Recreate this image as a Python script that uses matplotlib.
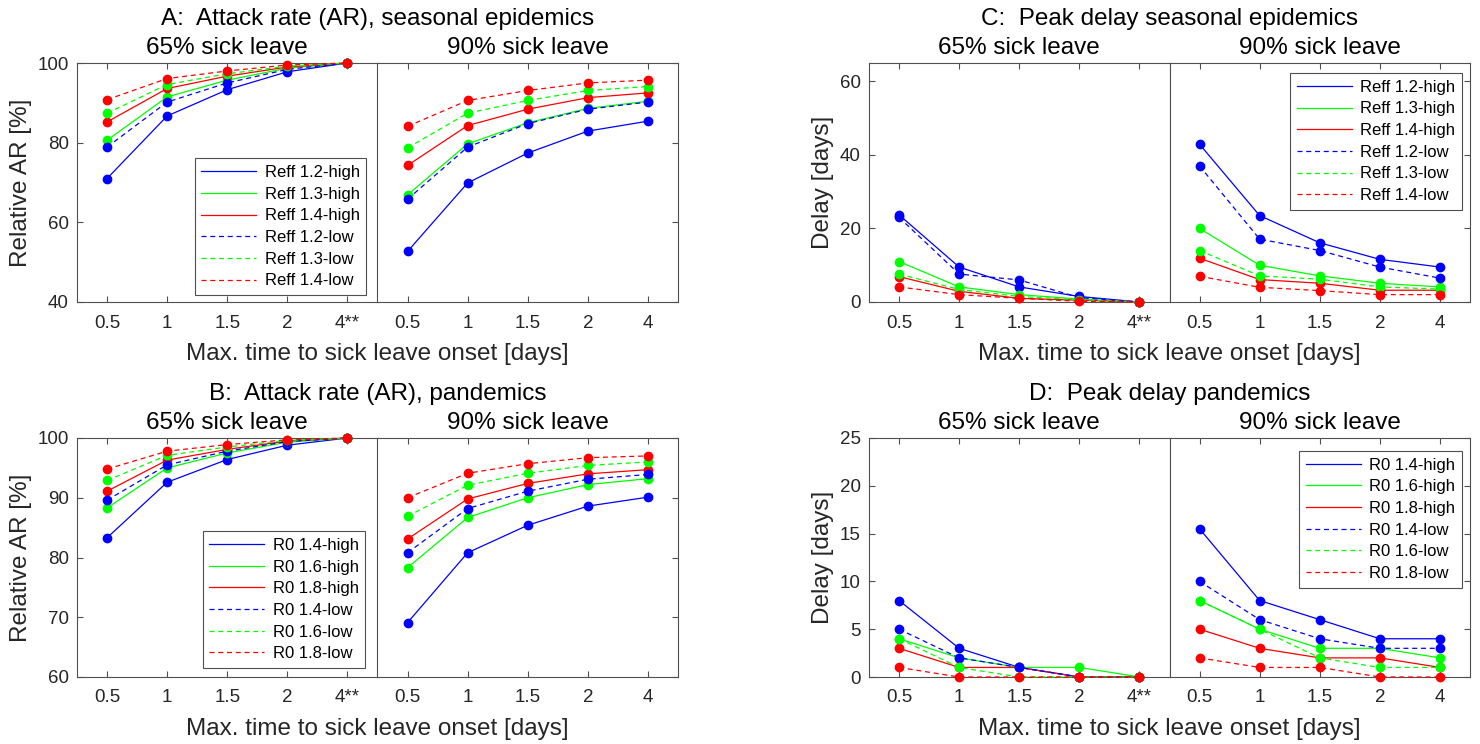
import matplotlib
matplotlib.use("Agg")
import matplotlib.pyplot as plt

plt.rcParams['font.family'] = ['Liberation Sans', 'DejaVu Sans']

# x categories (max. time to sick leave onset, days)
xcats = [0.5, 1, 1.5, 2, 4]
xlab_65 = ['0.5', '1', '1.5', '2', '4**']
xlab_90 = ['0.5', '1', '1.5', '2', '4']

# series order: high x3 then low x3
names_seas = ['Reff 1.2-high', 'Reff 1.3-high', 'Reff 1.4-high',
              'Reff 1.2-low', 'Reff 1.3-low', 'Reff 1.4-low']
names_pand = ['R0 1.4-high', 'R0 1.6-high', 'R0 1.8-high',
              'R0 1.4-low', 'R0 1.6-low', 'R0 1.8-low']

# A: relative attack rate, seasonal epidemics [%]
ar_seas_65 = [[71.0, 86.7, 93.3, 97.8, 100],
              [80.6, 91.5, 95.7, 98.7, 100],
              [85.2, 93.6, 96.7, 99.0, 100],
              [78.9, 90.2, 95.0, 98.4, 100],
              [87.4, 94.6, 97.3, 99.2, 100],
              [90.8, 96.1, 98.0, 99.5, 100]]
ar_seas_90 = [[52.7, 69.9, 77.4, 82.9, 85.4],
              [66.9, 79.7, 85.0, 88.6, 90.4],
              [74.3, 84.3, 88.4, 91.3, 92.5],
              [65.8, 78.9, 84.8, 88.4, 90.2],
              [78.7, 87.4, 90.6, 93.1, 94.1],
              [84.1, 90.6, 93.1, 95.0, 95.7]]

# B: relative attack rate, pandemics [%]
ar_pand_65 = [[83.3, 92.6, 96.4, 98.8, 100],
              [88.3, 95.0, 97.5, 99.3, 100],
              [91.1, 96.3, 98.1, 99.5, 100],
              [89.6, 95.5, 97.8, 99.4, 100],
              [92.9, 97.1, 98.5, 99.6, 100],
              [94.8, 97.8, 98.9, 99.7, 100]]
ar_pand_90 = [[69.1, 80.8, 85.4, 88.6, 90.1],
              [78.3, 86.7, 90.0, 92.2, 93.2],
              [83.1, 89.8, 92.4, 94.0, 94.7],
              [80.8, 88.2, 91.1, 93.1, 93.9],
              [86.9, 92.1, 94.1, 95.4, 96.0],
              [90.0, 94.1, 95.7, 96.7, 97.0]]

# C: peak delay, seasonal epidemics [days]
dl_seas_65 = [[23.7, 9.5, 4.1, 1.5, 0],
              [11.0, 4.1, 2.0, 0.8, 0],
              [6.9, 2.9, 1.0, 0.5, 0],
              [23.0, 7.6, 6.0, 1.2, 0],
              [7.6, 3.4, 1.5, 0.6, 0],
              [4.1, 2.0, 1.0, 0.2, 0]]
dl_seas_90 = [[42.9, 23.5, 16.1, 11.6, 9.5],
              [20.0, 10.0, 7.1, 5.1, 4.1],
              [11.9, 6.1, 5.1, 3.2, 3.2],
              [37.0, 17.1, 14.0, 9.5, 6.5],
              [14.0, 7.1, 6.2, 4.1, 3.5],
              [7.0, 4.0, 3.1, 2.0, 2.0]]

# D: peak delay, pandemics [days]
dl_pand_65 = [[8, 3, 1, 0, 0],
              [4, 2, 1, 1, 0],
              [3, 1, 1, 0, 0],
              [5, 2, 1, 0, 0],
              [4, 1, 0, 0, 0],
              [1, 0, 0, 0, 0]]
dl_pand_90 = [[15.5, 8, 6, 4, 4],
              [8, 5, 3, 3, 2],
              [5, 3, 2, 2, 1],
              [10, 6, 4, 3, 3],
              [8, 5, 2, 1, 1],
              [2, 1, 1, 0, 0]]

colors = ['b', 'lime', 'r', 'b', 'lime', 'r']
styles = ['-', '-', '-', (0, (4, 3)), (0, (4, 3)), (0, (4, 3))]

W, H = 1480, 744
fig = plt.figure(figsize=(W/100, H/100), dpi=100)
axcol = '#505050'


def box(x0, x1, y0, y1):
    # pixel box -> figure fraction
    return [x0/W, 1-y1/H, (x1-x0)/W, (y1-y0)/H]


def half(rect, data, names, xlabs, ylim, yticks, side):
    ax = fig.add_axes(rect)
    pos = range(1, len(xcats)+1)
    lines = []
    for i in range(len(data)):
        l, = ax.plot(pos, data[i], color=colors[i], ls=styles[i], lw=0.9,
                     marker='o', ms=6, label=names[i], clip_on=False, zorder=3)
        lines.append(l)
    ax.set_xlim(0.5, len(xcats)+0.5)
    ax.set_ylim(*ylim)
    ax.set_xticks(list(pos))
    ax.set_xticklabels(xlabs)
    ax.set_yticks(yticks)
    for s in ax.spines.values():
        s.set_color(axcol)
        s.set_linewidth(0.8)
    ax.tick_params(direction='in', length=4, width=0.8, color=axcol,
                   labelsize=13.5, labelcolor='#262626', top=True)
    ax.tick_params(axis='x', pad=9)
    ax.tick_params(axis='y', pad=6)
    if side == 'left':
        ax.tick_params(axis='y', left=True, right=False)
    else:
        ax.tick_params(axis='y', left=False, right=True, labelleft=False)
    return ax, lines


def panel(x0, x1, y0, y1, d65, d90, names, ylim, yticks, title, ylabel, legpos):
    xm = (x0+x1)/2
    ax1, lines = half(box(x0, xm, y0, y1), d65, names, xlab_65, ylim, yticks, 'left')
    ax2, _ = half(box(xm, x1, y0, y1), d90, names, xlab_90, ylim, yticks, 'right')
    ax1.set_ylabel(ylabel, fontsize=17.5, color='#262626', labelpad=4)
    fig.text(xm/W, 1-(y0-44)/H, title, fontsize=17.5, ha='center', va='center')
    fig.text((x0+xm)/2/W, 1-(y0-15)/H, '65% sick leave', fontsize=17.5, ha='center', va='center')
    fig.text((xm+x1)/2/W, 1-(y0-15)/H, '90% sick leave', fontsize=17.5, ha='center', va='center')
    fig.text(xm/W, 1-(y1+52)/H, 'Max. time to sick leave onset [days]',
             fontsize=17.5, ha='center', va='center', color='#262626')
    which, loc, anchor = legpos
    axl = ax1 if which == 1 else ax2
    leg = axl.legend(lines, names, loc=loc, bbox_to_anchor=anchor, fontsize=12,
                     handlelength=3.3, labelspacing=0.4, borderpad=0.4,
                     handletextpad=0.5, borderaxespad=0, fancybox=False, framealpha=1)
    leg.get_frame().set_edgecolor(axcol)
    leg.get_frame().set_linewidth(0.8)
    for h in leg.get_lines():
        h.set_marker('')


panel(77, 678, 63, 302, ar_seas_65, ar_seas_90, names_seas, (40, 100), [40, 60, 80, 100],
      'A:  Attack rate (AR), seasonal epidemics', 'Relative AR [%]',
      (1, 'lower right', (0.963, 0.029)))
panel(869, 1470, 63, 302, dl_seas_65, dl_seas_90, names_seas, (0, 65), [0, 20, 40, 60],
      'C:  Peak delay seasonal epidemics', 'Delay [days]',
      (2, 'upper right', (0.973, 0.958)))
panel(77, 678, 438, 677, ar_pand_65, ar_pand_90, names_pand, (60, 100), [60, 70, 80, 90, 100],
      'B:  Attack rate (AR), pandemics', 'Relative AR [%]',
      (1, 'lower right', (0.96, 0.038)))
panel(869, 1470, 438, 677, dl_pand_65, dl_pand_90, names_pand, (0, 25), [0, 5, 10, 15, 20, 25],
      'D:  Peak delay pandemics', 'Delay [days]',
      (2, 'upper right', (0.973, 0.946)))

fig.savefig('out.png', dpi=100)
